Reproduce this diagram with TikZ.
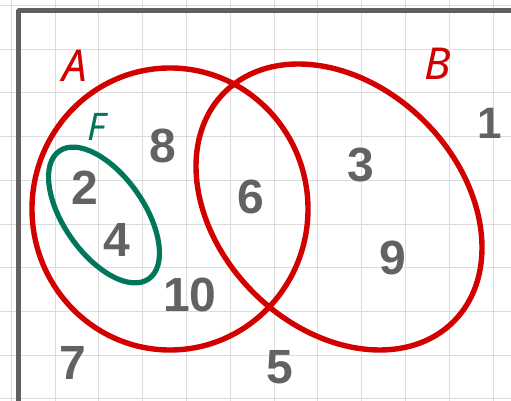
\documentclass[tikz,border=0pt]{standalone}
\usepackage{fontspec}
\setmainfont{Liberation Sans}
\newfontfamily\handfont{Noto Sans}
\usetikzlibrary{shapes.geometric,positioning}

\definecolor{setred}{HTML}{D30000}
\definecolor{setgreen}{HTML}{00765A}
\definecolor{numgray}{HTML}{626262}
\definecolor{framegray}{HTML}{5F5F5F}
\definecolor{gridgray}{HTML}{DCDCDC}

\begin{document}
\begin{tikzpicture}[x=1pt, y=1pt,
  setring/.style={draw=setred, line width=5.4pt, ellipse, inner sep=0pt},
  subring/.style={draw=setgreen, line width=5.2pt, ellipse, inner sep=0pt},
  num/.style={font=\fontsize{48}{48}\selectfont\bfseries, text=numgray, inner sep=0pt},
  setname/.style={font=\handfont\itshape\fontsize{44}{44}\selectfont, inner sep=0pt},
]
\useasboundingbox (0,0) rectangle (511,401);

% ============ squared paper ============
\foreach \k in {0,...,11}
  \draw[gridgray, line width=1pt] (11.2+43.8*\k, 0) -- (11.2+43.8*\k, 401);
\foreach \k in {0,...,9}
  \draw[gridgray, line width=1pt] (0, 395.4-43.7*\k) -- (511, 395.4-43.7*\k);

% frame (top and left only)
\draw[framegray, line width=5pt, line join=bevel] (18,-5) -- (18,390.5) -- (520,390.5);

% ============ SETS ============
\node[setring, minimum width=276, minimum height=282] (setA) at (170,192) {};
\node[setring, minimum width=324, minimum height=242, rotate=-45] (setB) at (339,194) {};
\node[subring, minimum width=156, minimum height=80, rotate=-55] (setF) at (104,186) {};

\node[setname, text=setred] (nameA) at (75,335) {A};
\node[setname, text=setred] (nameB) at (438,337) {B};
\node[setname, text=setgreen, font=\handfont\itshape\fontsize{38}{38}\selectfont] (nameF) at (97,274) {F};

% ============ ELEMENTS ============
\node[num] (n8) at (163,255) {8};
\node[num] (n2) at (85,213) {2};
\node[num] (n4) at (117,161) {4};
\node[num] (n6) at (251,204) {6};
\node[num] (n3) at (361,236) {3};
\node[num] (n9) at (393,143) {9};
\node[num, font=\fontsize{44}{44}\selectfont\bfseries] (n1) at (490,278) {1};
\node[num] (n10) at (190,106) {10};
\node[num] (n7) at (73,38) {7};
\node[num] (n5) at (280,34) {5};

\end{tikzpicture}
\end{document}
